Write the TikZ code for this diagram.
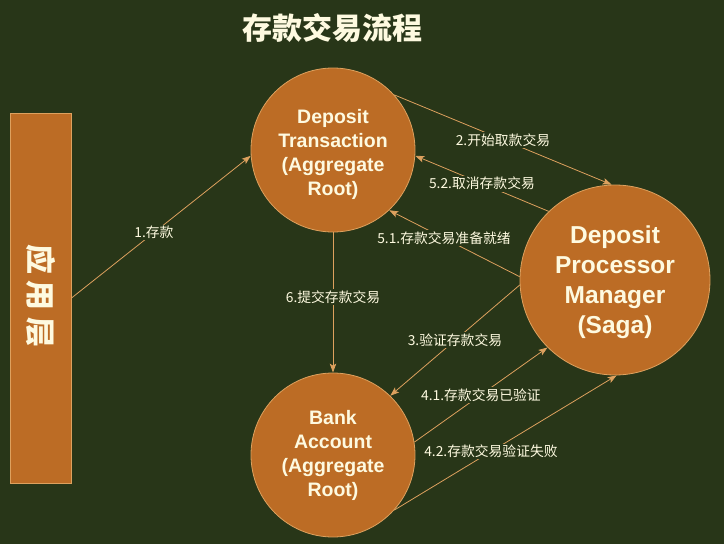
\documentclass[tikz,border=0pt]{standalone}
\usepackage{fontspec}
\setmainfont{Liberation Sans}
\newfontfamily\cjk{Noto Sans CJK SC}
\usetikzlibrary{arrows.meta}
\definecolor{bg}{HTML}{283618}
\definecolor{fillc}{HTML}{BC6C25}
\definecolor{edgec}{HTML}{DDA15E}
\definecolor{txt}{HTML}{FEFAE0}
\begin{document}
\begin{tikzpicture}[x=1pt,y=-1pt,
  circ/.style={circle, fill=fillc, draw=edgec, line width=0.8pt, inner sep=0pt},
  ctext/.style={text=txt, align=center, inner sep=0pt, font=\bfseries\fontsize{19.5}{24}\selectfont},
  conn/.style={draw=edgec, line width=0.8pt, -{Stealth[length=9pt,width=6.5pt,inset=2pt]}},
  lbl/.style={fill=bg, text=txt, inner sep=1.5pt, font=\cjk\fontsize{13.8}{16}\selectfont}]
\fill[bg] (0,0) rectangle (724,544);
\useasboundingbox (0,0) rectangle (724,544);
\node[text=txt, font=\cjk\bfseries\fontsize{30}{34}\selectfont] (title) at (332,28) {存款交易流程};
\node[draw=edgec, fill=fillc, minimum width=61, minimum height=370, inner sep=0pt, line width=1pt] (app) at (40.5,298) {};
\node[rotate=-90, text=txt, font=\cjk\bfseries\fontsize{30}{34}\selectfont] (apptext) at (40.5,296) {应\hspace{7pt}用\hspace{7pt}层};
\node[circ, minimum size=164] (dt) at (333,150) {};
\node[circ, minimum size=164] (ba) at (333,455) {};
\node[circ, minimum size=190] (dpm) at (615,280) {};
\node[ctext] (dttext) at (333,154) {Deposit\\Transaction\\(Aggregate\\Root)};
\node[ctext] (batext) at (333,455) {Bank\\Account\\(Aggregate\\Root)};
\node[ctext, font=\bfseries\fontsize{24.5}{30}\selectfont] (dpmtext) at (615,282) {Deposit\\Processor\\Manager\\(Saga)};
\draw[conn] (app.east) -- node[lbl, pos=0.46] (l1) {1.存款} (dt.184);
\draw[conn] (dt.42) -- node[lbl, midway] (l2) {2.开始取款交易} (dpm.92);
\draw[conn] (dpm.134) -- node[lbl, midway] (l52) {5.2.取消存款交易} (dt.356);
\draw[conn] (dpm.178) -- node[lbl, pos=0.58] (l51) {5.1.存款交易准备就绪} (dt.313);
\draw[conn] (dt.south) -- node[lbl, pos=0.46] (l6) {6.提交存款交易} (ba.north);
\draw[conn] (dpm.183) -- node[lbl, midway] (l3) {3.验证存款交易} (ba.46);
\draw[conn] (ba.9) -- node[lbl, midway] (l41) {4.1.存款交易已验证} (dpm.225);
\draw[conn] (ba.318) -- node[lbl, pos=0.435] (l42) {4.2.存款交易验证失败} (dpm.271);
\end{tikzpicture}
\end{document}
